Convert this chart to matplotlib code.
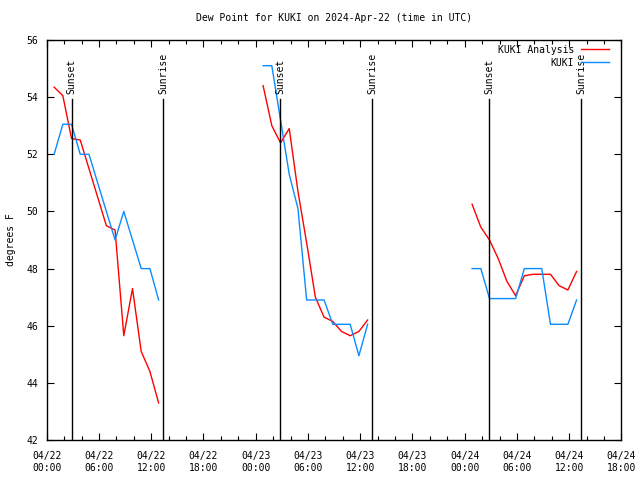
import numpy as np
import pandas as pd
import matplotlib
matplotlib.use("Agg")
import matplotlib.pyplot as plt
import matplotlib.dates as mdates

# hourly observation starts (one run per day), values in deg F
seg_start = ["2024-04-22 00:51", "2024-04-23 00:51", "2024-04-24 00:51"]

analysis_1 = [54.35, 54.05, 52.55, 52.5, 51.5, 50.5, 49.5, 49.35, 45.65, 47.3, 45.1, 44.4, 43.3]
analysis_2 = [54.4, 53.0, 52.4, 52.9, 50.7, 48.9, 47.0, 46.3, 46.15, 45.8, 45.65, 45.8, 46.2]
analysis_3 = [50.25, 49.45, 49.0, 48.35, 47.55, 47.05, 47.75, 47.8, 47.8, 47.8, 47.4, 47.25, 47.9]

obs_1 = [52.0, 53.05, 53.05, 52.0, 52.0, 51.0, 50.0, 49.0, 50.0, 49.0, 48.0, 48.0, 46.9]
obs_2 = [55.1, 55.1, 53.2, 51.3, 50.1, 46.9, 46.9, 46.9, 46.05, 46.05, 46.05, 44.95, 46.05]
obs_3 = [48.0, 48.0, 46.95, 46.95, 46.95, 46.95, 48.0, 48.0, 48.0, 46.05, 46.05, 46.05, 46.9]

sun_times = ["2024-04-22 02:51", "2024-04-22 13:23", "2024-04-23 02:50",
             "2024-04-23 13:22", "2024-04-24 02:50", "2024-04-24 13:24"]
sun_labels = ["Sunset", "Sunrise", "Sunset", "Sunrise", "Sunset", "Sunrise"]

FONT = "DejaVu Sans Mono"
FS = 7
RED = "#ff0000"
BLUE = "#0a8cff"

fig = plt.figure(figsize=(6.4, 4.8), dpi=100)
ax = fig.add_axes([0.073, 0.0833, 0.898, 0.8334])

analysis = [analysis_1, analysis_2, analysis_3]
obs = [obs_1, obs_2, obs_3]
for i, start in enumerate(seg_start):
    t = pd.date_range(start, periods=len(analysis[i]), freq="h")
    ax.plot(t, analysis[i], color=RED, lw=1.0,
            label="KUKI Analysis" if i == 0 else None)
    t2 = pd.date_range(start, periods=len(obs[i]), freq="h")
    ax.plot(t2, obs[i], color=BLUE, lw=1.0, label="KUKI" if i == 0 else None)

for ts, lab in zip(sun_times, sun_labels):
    x = pd.Timestamp(ts)
    ax.axvline(x, ymin=0, ymax=0.8525, color="black", lw=1.0)
    ax.text(x, 0.866, lab, transform=ax.get_xaxis_transform(), rotation=90,
            ha="center", va="bottom", fontsize=FS, family=FONT)

ax.set_xlim(pd.Timestamp("2024-04-22 00:00"), pd.Timestamp("2024-04-24 18:00"))
ax.set_ylim(42, 56)
ax.set_yticks(np.arange(42, 57, 2))
ax.xaxis.set_major_locator(mdates.HourLocator(byhour=[0, 6, 12, 18]))
ax.xaxis.set_minor_locator(mdates.HourLocator(interval=2))
ax.xaxis.set_major_formatter(mdates.DateFormatter("%m/%d\n%H:%M"))

ax.tick_params(which="both", direction="in", top=True, right=True,
               labelsize=FS, width=0.8)
ax.tick_params(which="major", length=5, pad=6)
ax.tick_params(axis="x", which="major", pad=8)
ax.tick_params(which="minor", length=3)
for lab in ax.get_xticklabels() + ax.get_yticklabels():
    lab.set_family(FONT)

for s in ax.spines.values():
    s.set_linewidth(1.0)

ax.set_ylabel("degrees F", fontsize=FS, family=FONT, labelpad=8)
ax.set_title("Dew Point for KUKI on 2024-Apr-22 (time in UTC)",
             fontsize=FS, family=FONT, pad=14)

leg = ax.legend(loc="upper right", bbox_to_anchor=(0.99, 1.005), frameon=False,
                markerfirst=False, handlelength=2.9, handletextpad=0.7,
                labelspacing=0.3, borderaxespad=0.3,
                prop={"family": FONT, "size": FS})
for txt in leg.get_texts():
    txt.set_ha("right")

fig.savefig("out.png", dpi=100)
